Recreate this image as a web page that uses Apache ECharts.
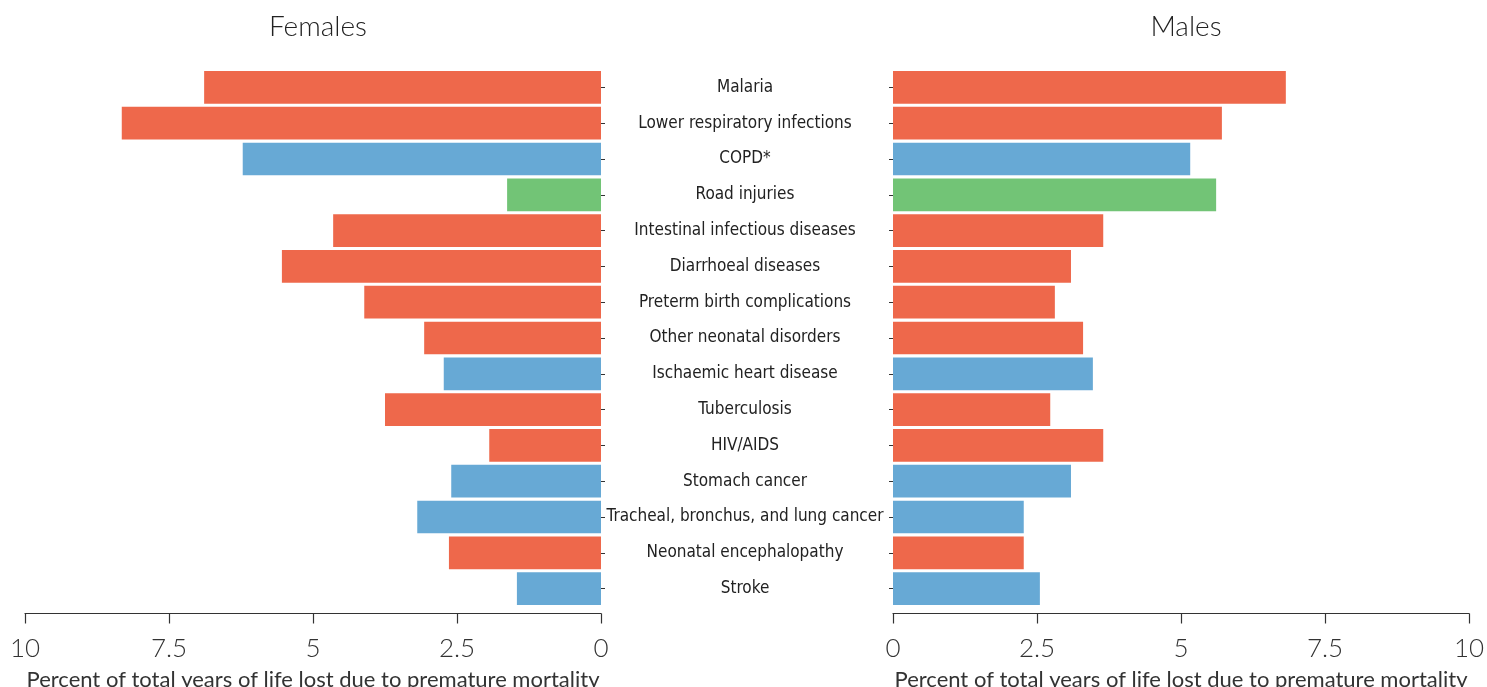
<!DOCTYPE html>
<html>
<head>
<meta charset="utf-8">
<script src="https://cdn.jsdelivr.net/npm/echarts@6/dist/echarts.min.js"></script>
<style>
  html, body { margin: 0; padding: 0; background: #fff; }
  #main { width: 1487px; height: 687px; }
</style>
</head>
<body>
<div id="main"></div>
<script>
// causes, top to bottom
var causes = [
  "Malaria", "Lower respiratory infections", "COPD*", "Road injuries",
  "Intestinal infectious diseases", "Diarrhoeal diseases", "Preterm birth complications",
  "Other neonatal disorders", "Ischaemic heart disease", "Tuberculosis", "HIV/AIDS",
  "Stomach cancer", "Tracheal, bronchus, and lung cancer", "Neonatal encephalopathy", "Stroke"
];
// cause group: c = communicable, n = non-communicable, i = injuries
var groups = ["c", "c", "n", "i", "c", "c", "c", "c", "n", "c", "c", "n", "n", "c", "n"];
var females = [6.89, 8.32, 6.22, 1.63, 4.65, 5.54, 4.11, 3.07, 2.73, 3.75, 1.94, 2.60, 3.19, 2.64, 1.46];
var males = [6.82, 5.71, 5.16, 5.61, 3.65, 3.09, 2.81, 3.30, 3.47, 2.73, 3.65, 3.09, 2.27, 2.27, 2.55];
var ticks = [0, 2.5, 5, 7.5, 10];

var groupColor = { c: "#EE684B", n: "#67A9D5", i: "#72C476" };
var tickFont = "Lato, 'Open Sans', sans-serif";
var labelFont = "'Liberation Sans Narrow', 'DejaVu Sans Condensed', sans-serif";

function coloured(values) {
  return values.map(function (v, i) {
    return { value: v, itemStyle: { color: groupColor[groups[i]] } };
  });
}

function xAxisFor(idx, inverse) {
  return {
    gridIndex: idx,
    type: "value",
    min: 0,
    max: 10,
    interval: 2.5,
    inverse: inverse,
    offset: 7,
    splitLine: { show: false },
    axisLine: { show: true, lineStyle: { color: "#333", width: 1.2 } },
    axisTick: { show: true, length: 10, lineStyle: { color: "#333", width: 1.2 } },
    axisLabel: {
      color: "#333", fontSize: 26, fontFamily: tickFont, fontWeight: 300, margin: 22,
      formatter: function (v) { return ticks.indexOf(v) >= 0 ? String(v) : ""; }
    },
    name: "Percent of total years of life lost due to premature mortality",
    nameLocation: "middle",
    nameGap: 55,
    nameTextStyle: { color: "#333", fontSize: 22, fontFamily: tickFont, fontWeight: 400 }
  };
}

var chart = echarts.init(document.getElementById("main"));
chart.setOption({
  animation: false,
  title: [
    { text: "Females", left: 313, top: 8, textAlign: "center",
      textStyle: { fontSize: 28, fontWeight: 300, color: "#222", fontFamily: tickFont } },
    { text: "Males", left: 1181, top: 8, textAlign: "center",
      textStyle: { fontSize: 28, fontWeight: 300, color: "#222", fontFamily: tickFont } }
  ],
  grid: [
    { left: 25, width: 576, top: 69.5, height: 537, outerBoundsMode: "none", containLabel: false },
    { left: 893, width: 576, top: 69.5, height: 537, outerBoundsMode: "none", containLabel: false }
  ],
  xAxis: [xAxisFor(0, true), xAxisFor(1, false)],
  yAxis: [
    {
      gridIndex: 0, type: "category", data: causes, inverse: true, position: "right",
      axisLine: { show: false },
      axisTick: { show: true, length: 4, alignWithLabel: true, lineStyle: { color: "#333" } },
      axisLabel: {
        color: "#222", fontSize: 17, fontFamily: labelFont, align: "center", margin: 144
      }
    },
    {
      gridIndex: 1, type: "category", data: causes, inverse: true, position: "left",
      axisLine: { show: false },
      axisTick: { show: true, length: 4, alignWithLabel: true, lineStyle: { color: "#333" } },
      axisLabel: { show: false }
    }
  ],
  series: [
    { name: "Females", type: "bar", xAxisIndex: 0, yAxisIndex: 0,
      data: coloured(females), barCategoryGap: "8.7%" },
    { name: "Males", type: "bar", xAxisIndex: 1, yAxisIndex: 1,
      data: coloured(males), barCategoryGap: "8.7%" }
  ]
});
</script>
</body>
</html>
